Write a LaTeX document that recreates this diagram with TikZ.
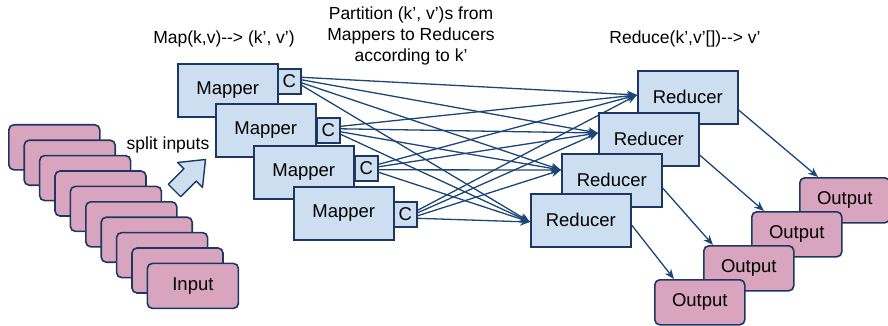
\documentclass[tikz,border=0pt]{standalone}
\usepackage{fontspec}
\setmainfont{Liberation Sans}
\usetikzlibrary{arrows.meta,calc}
\definecolor{navy}{RGB}{28,56,98}
\definecolor{linec}{RGB}{28,70,118}
\definecolor{boxblue}{RGB}{204,222,240}
\definecolor{boxpink}{RGB}{216,164,190}
\pgfdeclarelayer{bg}
\pgfsetlayers{bg,main}
\tikzset{
  txt/.style={font=\fontsize{17.5}{21}\selectfont, inner sep=0pt},
  inbox/.style={draw=navy, line width=1.6pt, fill=boxpink, rounded corners=5pt,
    minimum width=91pt, minimum height=45pt, anchor=north west, inner sep=0pt,
    font=\fontsize{18.5}{21}\selectfont},
  outbox/.style={inbox, minimum width=90pt},
  bluebox/.style={draw=navy, line width=1.6pt, fill=boxblue,
    minimum width=100pt, minimum height=53pt, anchor=north west, inner sep=0pt,
    font=\fontsize{18.5}{21}\selectfont},
  cbox/.style={draw=navy, line width=1.6pt, fill=boxblue,
    minimum width=23pt, minimum height=25pt, anchor=north west, inner sep=0pt,
    font=\fontsize{18.5}{21}\selectfont},
  conn/.style={draw=linec, line width=1.3pt, -{Stealth[length=10pt,width=8pt]}},
}
\begin{document}
\begin{tikzpicture}[x=1pt,y=-1pt]
\useasboundingbox (0,0) rectangle (888,326);

% titles
\node[txt] (t1) at (224,39) {Map(k,v)-{}-> (k’, v’)};
\node[txt, align=center] (t2) at (411,36) {Partition (k’, v’)s from\\Mappers to Reducers\\according to k’};
\node[txt] (t3) at (685,39) {Reduce(k’,v’[])-{}-> v’};

% inputs
\foreach \i in {0,...,8} {
  \node[inbox] (in\i) at ({8+15.4*\i},{124+15.4*\i}) {};
}
\node[inbox] (in9) at ({8+15.4*9},{124+15.4*9}) {Input};

% split inputs
\node[txt] (split) at (168,145) {split inputs};
\draw[navy, line width=1.4pt, fill=boxblue, line join=round]
  (205.5,159.5) -- (202.5,187.5) -- (196.3,181.1) -- (180.7,196.7)
  -- (168.3,184.3) -- (183.9,168.7) -- (177.5,162.5) -- cycle;

% mappers
\node[bluebox] (m1) at (177,63) {Mapper};
\node[cbox] (c1) at (277,68) {C};
\node[bluebox] (m2) at (215,103) {Mapper};
\node[cbox] (c2) at (316,117) {C};
\node[bluebox] (m3) at (253,145) {Mapper};
\node[cbox] (c3) at (354,155) {C};
\node[bluebox] (m4) at (293,186) {Mapper};
\node[cbox] (c4) at (393,201) {C};

% reducers
\node[bluebox] (r1) at (637,70) {Reducer};
\node[bluebox] (r2) at (598,112) {Reducer};
\node[bluebox] (r3) at (561,153) {Reducer};
\node[bluebox] (r4) at (530,193) {Reducer};

% reducer targets
\coordinate (e1) at ([yshift=-25pt]r1.north west);
\coordinate (e2) at ([yshift=-21pt]r2.north west);
\coordinate (e3) at ([yshift=-17pt]r3.north west);
\coordinate (e4) at ([yshift=-29pt]r4.north west);

\begin{pgfonlayer}{bg}
\foreach \c in {1,...,4} {
  \foreach \r/\o in {1/4,2/1.5,3/-1.5,4/-4} {
    \draw[conn] ([yshift=\o pt]c\c.east) -- (e\r);
  }
}
\end{pgfonlayer}

% outputs
\node[outbox] (o1) at (799,177) {Output};
\node[outbox] (o2) at (751,211) {Output};
\node[outbox] (o3) at (703,245) {Output};
\node[outbox] (o4) at (654,279) {Output};

% reducer -> output
\draw[conn] ([yshift=-40pt]r1.north east) -- ([xshift=19pt]o1.north west);
\draw[conn] ([yshift=-43pt]r2.north east) -- ([xshift=13pt]o2.north west);
\draw[conn] ([yshift=-35pt]r3.north east) -- ([xshift=10pt]o3.north west);
\draw[conn] ([yshift=-32pt]r4.north east) -- ([xshift=20pt]o4.north west);
\end{tikzpicture}
\end{document}
